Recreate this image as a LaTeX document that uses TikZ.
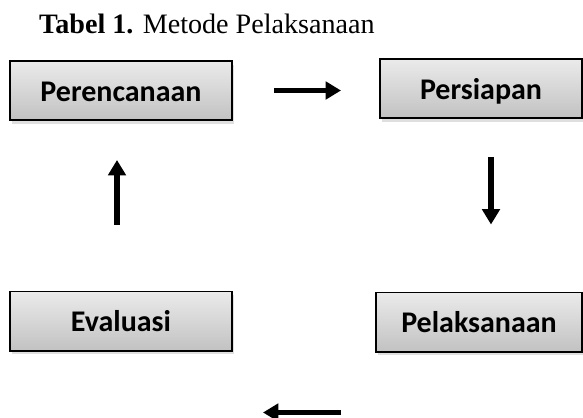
\documentclass[tikz,border=0pt]{standalone}
\usepackage{fontspec}
\setmainfont{Liberation Serif}
\newfontfamily\boxfont{Carlito}
\usepackage{tikz}
\usetikzlibrary{arrows.meta, calc, shadows}

\tikzset{
  stagebox/.style={draw=black, line width=1.7pt, top color=black!8, bottom color=black!24,
    minimum width=6.66cm, minimum height=1.77cm, inner sep=0pt,
    text height=0.64cm, text depth=0cm,
    font=\boxfont\fontsize{25.6}{30}\selectfont\bfseries,
    drop shadow={opacity=0.25, shadow xshift=2pt, shadow yshift=-3pt}},
  flow/.style={line width=4.4pt, -{Triangle[length=0.46cm, width=0.52cm]}}
}

\begin{document}
\begin{tikzpicture}[x=0.03cm, y=-0.03cm]
\useasboundingbox (0,0) rectangle (583,418);
\node[anchor=base west, font=\fontsize{24}{28}\selectfont] (title) at (35,33)
  {\textbf{Tabel 1.} Metode Pelaksanaan};
% the four stages
\node[stagebox] (perencanaan) at (121,90.5) {Perencanaan};
\node[stagebox, minimum width=6.06cm] (persiapan) at (481,88.5) {Persiapan};
\node[stagebox, minimum width=6.18cm] (pelaksanaan) at (479,322) {Pelaksanaan};
\node[stagebox] (evaluasi) at (121,321) {Evaluasi};
% arrows
\draw[flow] ($(perencanaan.east)+(41,0)$) -- ($(persiapan.west)+(-38,2)$);
\draw[flow] ($(persiapan.south)+(10,38)$) -- ($(pelaksanaan.north)+(12,-67)$);
\draw[flow] ($(pelaksanaan.south west)+(-34,60)$) -- ($(evaluasi.south east)+(30,61)$);
\draw[flow] ($(evaluasi.north)+(-4,-66)$) -- ($(perencanaan.south)+(-4,39)$);
\end{tikzpicture}
\end{document}
